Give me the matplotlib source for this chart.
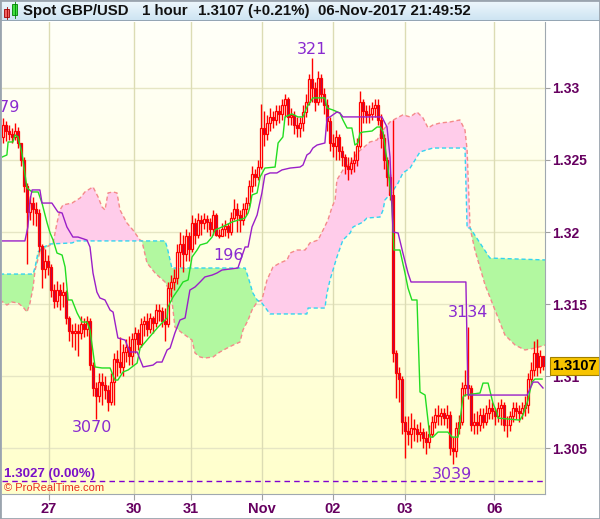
import numpy as np
import matplotlib
matplotlib.use("Agg")
import matplotlib.pyplot as plt
from matplotlib.patches import Rectangle

plt.rcParams['font.family'] = ['Liberation Sans', 'DejaVu Sans']

# ---------------- data ----------------
first_open = 1.3266
closes = [1.3274,1.3270,1.3268,1.3266,1.3270,1.3262,1.3250,1.3232,1.3214,1.3220,
1.3216,1.3213,1.3190,1.3174,1.3180,1.3176,1.3160,1.3152,1.3160,1.3156,
1.3158,1.3140,1.3131,1.3130,1.3131,1.3130,1.3136,1.3133,1.3138,1.3108,
1.3092,1.3086,1.3096,1.3094,1.3090,1.3082,1.3096,1.3112,1.3110,1.3106,
1.3117,1.3120,1.3114,1.3126,1.3130,1.3122,1.3136,1.3138,1.3133,1.3140,
1.3137,1.3146,1.3145,1.3138,1.3136,1.3161,1.3165,1.3168,1.3186,1.3192,
1.3185,1.3197,1.3188,1.3206,1.3198,1.3208,1.3206,1.3209,1.3207,1.3202,
1.3212,1.3198,1.3197,1.3202,1.3204,1.3200,1.3210,1.3216,1.3212,1.3208,
1.3216,1.3220,1.3232,1.3240,1.3238,1.3245,1.3272,1.3268,1.3276,1.3280,
1.3278,1.3284,1.3282,1.3288,1.3292,1.3280,1.3281,1.3274,1.3272,1.3276,
1.3283,1.3290,1.3306,1.3300,1.3290,1.3307,1.3296,1.3288,1.3277,1.3262,
1.3260,1.3266,1.3256,1.3252,1.3246,1.3244,1.3248,1.3250,1.3260,1.3290,
1.3284,1.3281,1.3282,1.3286,1.3288,1.3278,1.3265,1.3250,1.3238,1.3226,
1.3116,1.3102,1.3098,1.3068,1.3062,1.3060,1.3064,1.3063,1.3060,1.3061,
1.3057,1.3054,1.3060,1.3068,1.3073,1.3072,1.3074,1.3071,1.3073,1.3050,
1.3048,1.3064,1.3068,1.3092,1.3094,1.3092,1.3066,1.3068,1.3066,1.3073,
1.3068,1.3074,1.3078,1.3076,1.3072,1.3078,1.3080,1.3066,1.3066,1.3072,
1.3078,1.3076,1.3074,1.3078,1.3080,1.3098,1.3104,1.3116,1.3106,1.3114,
1.3107]
highs = [1.3279,1.3277,1.3274,1.3272,1.3276,1.3273,1.3262,1.3252,1.3234,1.3225,
1.3224,1.3221,1.3216,1.3192,1.3188,1.3184,1.3178,1.3164,1.3166,1.3164,
1.3165,1.3160,1.3142,1.3136,1.3137,1.3136,1.3142,1.3140,1.3142,1.3140,
1.3110,1.3096,1.3102,1.3102,1.3100,1.3094,1.3102,1.3116,1.3118,1.3127,
1.3122,1.3126,1.3128,1.3130,1.3134,1.3133,1.3140,1.3142,1.3144,1.3144,
1.3142,1.3150,1.3150,1.3148,1.3147,1.3165,1.3170,1.3174,1.3192,1.3200,
1.3198,1.3202,1.3200,1.3212,1.3210,1.3213,1.3212,1.3213,1.3212,1.3210,
1.3215,1.3213,1.3202,1.3206,1.3208,1.3206,1.3214,1.3223,1.3220,1.3215,
1.3220,1.3224,1.3236,1.3246,1.3244,1.3250,1.3289,1.3284,1.3281,1.3286,
1.3284,1.3288,1.3288,1.3292,1.3296,1.3294,1.3286,1.3284,1.3280,1.3280,
1.3288,1.3296,1.3310,1.3321,1.3304,1.3312,1.3310,1.3300,1.3292,1.3280,
1.3268,1.3271,1.3268,1.3260,1.3254,1.3252,1.3252,1.3256,1.3265,1.3298,
1.3292,1.3288,1.3288,1.3290,1.3292,1.3292,1.3282,1.3268,1.3252,1.3240,
1.3278,1.3118,1.3106,1.3100,1.3072,1.3072,1.3074,1.3070,1.3067,1.3068,
1.3064,1.3062,1.3066,1.3072,1.3078,1.3080,1.3078,1.3078,1.3080,1.3076,
1.3058,1.3068,1.3073,1.3096,1.3104,1.3134,1.3094,1.3074,1.3076,1.3078,
1.3078,1.3080,1.3084,1.3082,1.3078,1.3082,1.3084,1.3082,1.3072,1.3076,
1.3082,1.3082,1.3080,1.3082,1.3086,1.3102,1.3110,1.3124,1.3126,1.3118,
1.3114]
lows = [1.3262,1.3263,1.3264,1.3262,1.3264,1.3258,1.3246,1.3228,1.3178,1.3208,
1.3205,1.3204,1.3186,1.3161,1.3168,1.3170,1.3155,1.3147,1.3148,1.3146,
1.3148,1.3136,1.3124,1.3120,1.3118,1.3114,1.3126,1.3127,1.3128,1.3104,
1.3086,1.3070,1.3082,1.3080,1.3084,1.3076,1.3080,1.3080,1.3100,1.3102,
1.3100,1.3110,1.3108,1.3108,1.3116,1.3118,1.3120,1.3128,1.3128,1.3130,
1.3130,1.3134,1.3138,1.3134,1.3124,1.3134,1.3155,1.3160,1.3164,1.3176,
1.3172,1.3180,1.3180,1.3186,1.3192,1.3196,1.3198,1.3202,1.3200,1.3197,
1.3198,1.3197,1.3196,1.3197,1.3197,1.3196,1.3198,1.3208,1.3200,1.3200,
1.3205,1.3212,1.3218,1.3228,1.3232,1.3236,1.3244,1.3260,1.3264,1.3270,
1.3272,1.3274,1.3276,1.3278,1.3280,1.3274,1.3274,1.3268,1.3266,1.3266,
1.3270,1.3280,1.3288,1.3290,1.3284,1.3288,1.3290,1.3282,1.3270,1.3256,
1.3252,1.3250,1.3250,1.3246,1.3240,1.3236,1.3240,1.3242,1.3246,1.3258,
1.3276,1.3276,1.3276,1.3278,1.3280,1.3274,1.3258,1.3244,1.3232,1.3222,
1.3110,1.3085,1.3082,1.3060,1.3043,1.3052,1.3050,1.3055,1.3054,1.3055,
1.3050,1.3046,1.3050,1.3058,1.3064,1.3066,1.3066,1.3066,1.3064,1.3045,
1.3039,1.3044,1.3060,1.3066,1.3086,1.3084,1.3062,1.3060,1.3060,1.3062,
1.3064,1.3066,1.3070,1.3070,1.3066,1.3068,1.3066,1.3062,1.3058,1.3062,
1.3068,1.3070,1.3068,1.3070,1.3072,1.3074,1.3094,1.3100,1.3100,1.3102,
1.3104]

# Ichimoku lines, read as polyline vertices (bar position, price)
tenkan_x = [-1,1.3,1.7,3.3,4,5,6.3,8,9.7,11.7,13,14.7,15.7,16.7,18,19.7,20.7,21.7,23,24.7,26.3,28,29,30.7,33,35.7,37.3,38.3,40,41.7,43,44.7,45.7,48,50,51.7,53.3,54.7,55,56.7,58.3,60,61.7,63,64.7,65.7,68,69.7,70.7,73,76.3,80.7,81.7,82.3,83,84.7,85.7,87.3,90.7,91.7,93.3,94,96.3,98.3,100,101.3,103.3,107.3,108,110,112.3,113.3,114.7,116.3,117.3,118.3,119,120,123,124.7,125.7,126.7,128.3,129.7,130.3,132.3,134,135,136.3,138,139,140.7,142.3,143.3,145,148.3,149.7,151.7,153.3,154,159,160,161.7,163.3,164.7,165,172.3,173.3,175,176.3,177.3,179.7]
tenkan_y = [1.32514,1.32535,1.32625,1.32625,1.32674,1.3266,1.32549,1.32306,1.32278,1.32278,1.32201,1.32063,1.31993,1.31944,1.31854,1.3184,1.31757,1.31528,1.31528,1.31438,1.31375,1.31375,1.3132,1.31063,1.31056,1.31056,1.30972,1.30972,1.31028,1.31042,1.31063,1.3109,1.31194,1.3125,1.31299,1.3134,1.31375,1.31403,1.31479,1.31549,1.31597,1.31653,1.31667,1.31826,1.31875,1.3191,1.31924,1.31965,1.32014,1.32035,1.32069,1.32097,1.32132,1.32174,1.32257,1.32271,1.32382,1.32444,1.32451,1.32618,1.3266,1.32799,1.3282,1.32799,1.32799,1.32868,1.32931,1.32931,1.32861,1.32847,1.32826,1.32778,1.32722,1.32722,1.32604,1.32618,1.32688,1.32694,1.32701,1.32729,1.32729,1.32694,1.32451,1.32174,1.31875,1.31875,1.31715,1.31611,1.31528,1.31528,1.30889,1.30868,1.30576,1.30576,1.30611,1.30611,1.30576,1.30576,1.30854,1.30868,1.30882,1.30951,1.30951,1.30813,1.30743,1.30708,1.30694,1.30729,1.30833,1.30958,1.30979,1.30979]

kijun_x = [-1,7.3,8.3,9,9.7,12.3,13,16.3,18.3,19.7,21.3,22.3,23.3,25,28,29,30,31.3,32.3,34,35.7,36.7,38.3,40.7,42.3,44.7,46.7,50,51.3,53,54.7,55.7,57.3,59,60.7,62.3,64,65.7,67.3,69.7,71.3,73,78.3,80.7,81.7,83,84.7,86.3,87.3,89,91.3,93,95.7,99,100,101.3,102.3,103.3,104.7,107.3,108,109,111.3,112.3,113.3,126.3,128,129,130,131.7,133.3,135,136,154.3,155,174.7,176.7,178.3,180]
kijun_y = [1.31938,1.31938,1.32035,1.32222,1.32292,1.32292,1.32201,1.32201,1.32139,1.32132,1.32035,1.32,1.31965,1.31965,1.31944,1.31896,1.31715,1.31583,1.31542,1.31528,1.31458,1.31444,1.31264,1.3125,1.31167,1.31167,1.31063,1.31076,1.31097,1.31097,1.31181,1.31194,1.31299,1.31389,1.31403,1.31597,1.31618,1.31653,1.31688,1.31701,1.31715,1.31736,1.3175,1.31896,1.31896,1.32035,1.32118,1.32271,1.32396,1.3241,1.3241,1.32431,1.32444,1.32451,1.32465,1.32535,1.32549,1.32583,1.32604,1.32618,1.32792,1.32799,1.32833,1.32826,1.32799,1.32799,1.32729,1.32521,1.32,1.31993,1.31854,1.31715,1.31653,1.31653,1.30868,1.30868,1.30958,1.30958,1.30917]

span_a_x = [-1,1.3,3,5,6.7,8,9,10,10.7,12.3,15.7,16.7,18,19,20,23,25.7,27.3,30,31.7,33,34,35,36.7,38,39,41.3,43.3,45.7,46.3,48,50.7,54,55,56.3,57.3,59.7,63,64,65.7,67.3,70,72.3,74.7,76.7,79,80,81.7,83,84.7,86.3,88,90,92.3,94.7,95.7,98,100.7,102.3,105,106.7,108.3,109.7,110.7,111.3,113.3,116.7,118,120,122.3,124.7,126.7,129,131.3,133.3,135.7,138,140,141.7,143.3,145.7,149,152.3,154,154.7,155.7,157.3,160.7,164,167.3,170.7,174,177.3,180.7]
span_a_y = [1.31528,1.31493,1.31514,1.31507,1.31479,1.31444,1.31507,1.31611,1.31736,1.31861,1.3191,1.31924,1.32063,1.32153,1.32188,1.32201,1.32236,1.32278,1.32313,1.32243,1.32174,1.32153,1.32271,1.32278,1.32271,1.32153,1.32063,1.32014,1.31944,1.31938,1.31785,1.31715,1.31653,1.31611,1.31528,1.3134,1.31299,1.3125,1.3116,1.31132,1.31125,1.31132,1.31167,1.31194,1.31215,1.31236,1.3132,1.31389,1.31458,1.31514,1.31528,1.31667,1.31757,1.31785,1.31806,1.31854,1.31875,1.31875,1.31924,1.31944,1.32014,1.32083,1.32174,1.32222,1.32361,1.32431,1.325,1.32549,1.32583,1.32625,1.32639,1.32708,1.32764,1.32792,1.32813,1.32799,1.32833,1.32792,1.32722,1.32743,1.32757,1.32764,1.32778,1.32708,1.3257,1.32028,1.31875,1.31632,1.31458,1.31285,1.31215,1.31181,1.31194,1.31215]

span_b_x = [-1,10,10.7,11.7,13,15.7,23,24.7,54,54.7,56.3,80.7,81.7,83.3,84.7,86.3,89,101.3,101.7,107.3,108,109,110,111.3,113.3,115.7,116.7,120,121.3,125.7,126.7,127.3,129.7,131.7,133.3,135.7,139,143.3,154,154.7,155.7,162.3,180.7]
span_b_y = [1.31708,1.31708,1.31757,1.31861,1.31889,1.31917,1.31924,1.31938,1.31938,1.31896,1.3175,1.3175,1.31688,1.31576,1.31528,1.31507,1.31431,1.31431,1.31472,1.31472,1.31576,1.31667,1.31736,1.31826,1.31944,1.31993,1.32035,1.32069,1.32097,1.32104,1.32153,1.32222,1.32278,1.3234,1.3241,1.32444,1.32556,1.32583,1.32583,1.32028,1.32028,1.31819,1.31806]

day_ticks = [15.3, 43.7, 62.7, 86.3, 110.0, 134.0, 163.7]
day_labels = ['27', '30', '31', 'Nov', '02', '03', '06']
price_ticks = [1.305, 1.31, 1.315, 1.32, 1.325, 1.33]
price_labels = ['1.305', '1.31', '1.315', '1.32', '1.325', '1.33']

swing_x = [-1, 29.7, 75.3, 103, 149.7, 155]
swing_y = [1.32861, 1.30646, 1.3184, 1.33264, 1.30313, 1.31438]
swing_text = ['3279', '3070', '196', '321', '3039', '3134']

ref_price = 1.3027
last_price = 1.3107
title_parts = ["Spot GBP/USD", "1 hour", "1.3107 (+0.21%)", "06-Nov-2017 21:49:52"]
title_px = [23, 142, 198, 318]

# ---------------- figure ----------------
W, H = 600, 519
fig = plt.figure(figsize=(W/100, H/100), dpi=100)
fig.patch.set_facecolor('white')

ax = fig.add_axes([2/W, 25/H, 543/W, 472/H])
xlim = (-1/3, 180.667)
ylim = (1.30181, 1.33458)

# background gradient
grad = np.linspace(0, 1, 256).reshape(-1, 1)
top = np.array([1.0, 1.0, 0.975])
bot = np.array([1.0, 1.0, 0.80])
img = top[None, None, :] * (1 - grad[:, :, None]) + bot[None, None, :] * grad[:, :, None]
ax.imshow(img, extent=[0, 1, 0, 1], transform=ax.transAxes, aspect='auto', zorder=0)

# grid
for t in price_ticks:
    ax.axhline(t, color='#e6e6c4', lw=1.0, zorder=1)
for t in day_ticks:
    ax.axvline(t, color='#dcdcb4', lw=1.0, zorder=1)

# cloud
xx = np.linspace(-1, 180.7, 3000)
a = np.interp(xx, span_a_x, span_a_y)
b = np.interp(xx, span_b_x, span_b_y)
ax.fill_between(xx, a, b, where=a >= b, interpolate=True, color='#ffccea', lw=0, zorder=2)
ax.fill_between(xx, a, b, where=a < b, interpolate=True, color='#b2f8a0', lw=0, zorder=2)
ax.plot(span_a_x, span_a_y, color='#f48a8a', lw=1.0, ls=(0, (3, 2)), zorder=3)
ax.plot(span_b_x, span_b_y, color='#33d4f0', lw=1.0, ls=(0, (3, 2)), zorder=3)

# candles
opens = [first_open] + closes[:-1]
up_col = '#ff0000'
for i, (o, h, l, c) in enumerate(zip(opens, highs, lows, closes)):
    lo_b, hi_b = min(o, c), max(o, c)
    ax.plot([i, i], [hi_b, h], color=up_col, lw=1.0, zorder=4, solid_capstyle='butt')
    ax.plot([i, i], [l, lo_b], color=up_col, lw=1.0, zorder=4, solid_capstyle='butt')
    fc = '#fffff0' if c >= o else '#a0105a'
    rect = Rectangle((i - 0.33, lo_b), 0.66, max(hi_b - lo_b, 0.00002),
                     facecolor=fc, edgecolor=up_col, lw=0.9, zorder=5)
    ax.add_patch(rect)

# tenkan / kijun
ax.plot(tenkan_x, tenkan_y, color='#22dd22', lw=1.0, zorder=6)
ax.plot(kijun_x, kijun_y, color='#9a1fc8', lw=1.0, zorder=6)

# swing labels
for sx, sy, st in zip(swing_x, swing_y, swing_text):
    ax.text(sx, sy, st, color='#8a2bd0', fontsize=11.5, ha='center', va='center',
            family=['DejaVu Sans'], zorder=7, clip_on=True)

# reference price line
ax.axhline(ref_price, color='#8000d0', lw=1.0, ls=(0, (4, 3)), zorder=7)
ax.text(0.004, ref_price + 0.00050, f"{ref_price:.4f} (0.00%)", transform=ax.get_yaxis_transform(),
        color='#7a10c8', fontsize=9.5, fontweight='bold', va='center', ha='left', zorder=8)
ax.text(0.004, ref_price - 0.00050, "\u00a9 ProRealTime.com", transform=ax.get_yaxis_transform(),
        color='#e83020', fontsize=8, va='center', ha='left', zorder=8)

ax.set_xlim(*xlim)
ax.set_ylim(*ylim)

# axes styling
ax.yaxis.tick_right()
ax.set_yticks(price_ticks)
ax.set_yticklabels(price_labels)
ax.set_xticks(day_ticks)
ax.set_xticklabels(day_labels)
ax.tick_params(axis='y', length=3.8, width=0.8, color='#a0a0a0', pad=1,
               labelsize=10, labelcolor='#660060')
ax.tick_params(axis='x', length=4, width=0.8, color='#a0a0a0', pad=2,
               labelsize=10.5, labelcolor='#660060')
for lab in ax.get_yticklabels() + ax.get_xticklabels():
    lab.set_fontweight('bold')
for s in ['top', 'left']:
    ax.spines[s].set_visible(False)
ax.spines['right'].set_color('#a0a8b0')
ax.spines['bottom'].set_color('#a0a8b0')

# last price box
ax.annotate(f"{last_price:.4f}", xy=(1.0, last_price), xycoords=ax.get_yaxis_transform(),
            xytext=(5, 0), textcoords='offset points', ha='left', va='center',
            fontsize=10.5, fontweight='bold', color='black', zorder=10,
            bbox=dict(boxstyle='square,pad=0.15', fc='#f7c400', ec='#a08000', lw=0.8),
            annotation_clip=False)

# title bar
tax = fig.add_axes([0, (H - 21) / H, 1, 21 / H])
g2 = np.linspace(0, 1, 64).reshape(-1, 1)
c_top = np.array([0.94, 0.97, 0.99])
c_bot = np.array([0.80, 0.89, 0.95])
timg = c_top[None, None, :] * (1 - g2[:, :, None]) + c_bot[None, None, :] * g2[:, :, None]
tax.imshow(timg, extent=[0, 1, 0, 1], aspect='auto')
tax.set_xlim(0, 1); tax.set_ylim(0, 1)
tax.axis('off')
tax.add_patch(Rectangle((4/W, 0.18), 5/W, 0.38, facecolor='#f06060', edgecolor='#a00000', lw=0.6))
tax.plot([6.5/W, 6.5/W], [0.1, 0.65], color='#a00000', lw=0.6)
tax.add_patch(Rectangle((12/W, 0.3), 5/W, 0.5, facecolor='#40e040', edgecolor='#008000', lw=0.6))
tax.plot([14.5/W, 14.5/W], [0.15, 0.95], color='#008000', lw=0.6)
for txt, px in zip(title_parts, title_px):
    tax.text(px / W, 0.48, txt, fontsize=10.8, fontweight='bold', va='center', ha='left',
             color='#111111')
tax.axhline(0.0, color='#8a9aa8', lw=1.2)

# outer border
fig.add_artist(Rectangle((0, 0), 1, 1, transform=fig.transFigure, fill=False,
                         edgecolor='#9aa4ae', lw=2))

fig.savefig('out.png', dpi=100)
